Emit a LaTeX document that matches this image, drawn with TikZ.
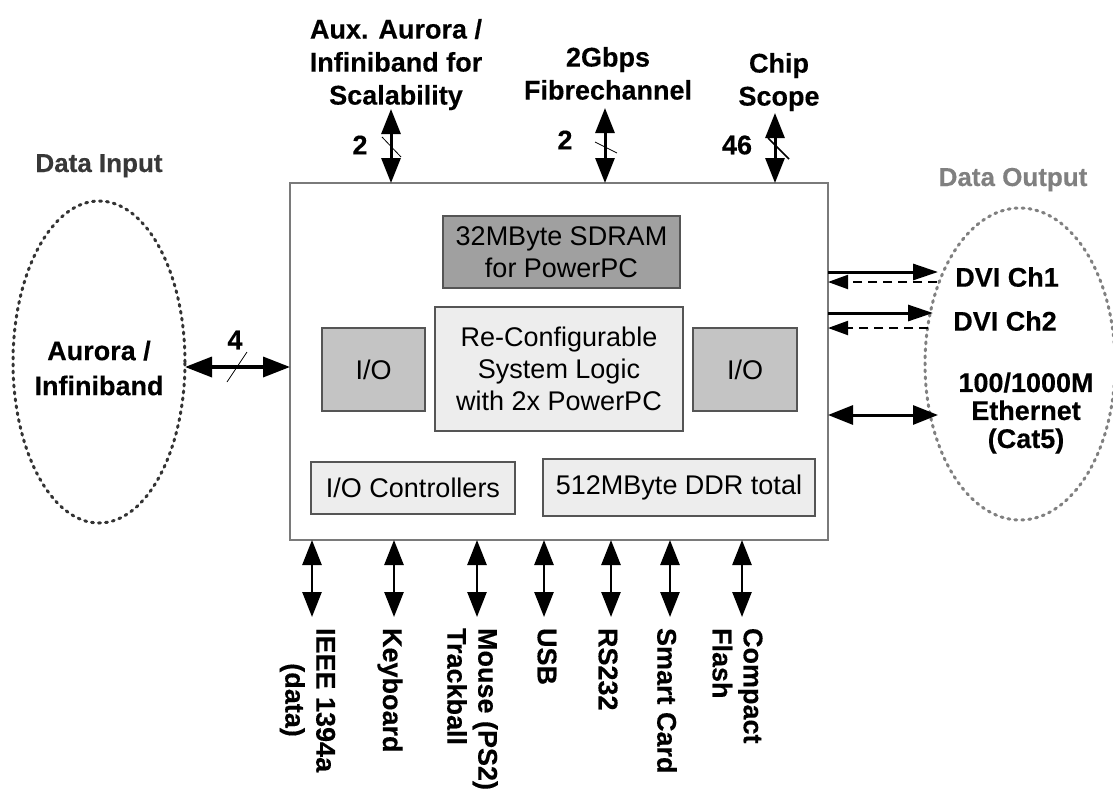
\documentclass[tikz,border=0pt]{standalone}
\usepackage{fontspec}
\setmainfont{Liberation Sans}[BoldFeatures={FakeBold=0.35}]
\usetikzlibrary{arrows.meta,shapes.geometric}
\definecolor{sdramc}{HTML}{A0A0A0}
\definecolor{iofillc}{HTML}{C4C4C4}
\definecolor{lightc}{HTML}{EDEDED}
\definecolor{boxline}{HTML}{555555}
\definecolor{mainline}{HTML}{7A7A7A}
\begin{document}
\begin{tikzpicture}[x=1pt,y=-1pt,
  every node/.style={inner sep=0pt, outer sep=0pt},
  lbl/.style={font=\bfseries\fontsize{27}{33}\selectfont, align=center},
  blbl/.style={font=\bfseries\fontsize{27}{31}\selectfont, rotate=-90, anchor=west},
  box/.style={draw=boxline, line width=1.2pt, font=\fontsize{27}{32}\selectfont, align=center},
  dbl/.style={line width=3pt, {Triangle[length=25pt,width=19pt]}-{Triangle[length=25pt,width=19pt]}},
  one/.style={line width=3pt, -{Triangle[length=25pt,width=16pt]}},
  dsh/.style={line width=2pt, dash pattern=on 9pt off 6pt, -{Triangle[length=20pt,width=14pt]}},
  slashln/.style={line width=0.8pt},
  ell/.style={ellipse, line width=3pt, dash pattern=on 2pt off 5pt, line cap=round},
]
\useasboundingbox (0,0) rectangle (1113,792);
\fill[white] (0,0) rectangle (1113,792);

% main board
\node[draw=mainline, line width=1.2pt, minimum width=538pt, minimum height=357pt] (main) at (559,361.5) {};
\node[box, fill=sdramc, minimum width=237pt, minimum height=72pt] (sdram) at (561.5,252) {32MByte SDRAM\\for PowerPC};
\node[box, fill=lightc, minimum width=248pt, minimum height=124pt] (logic) at (559,369) {Re-Configurable\\System Logic\\with 2x PowerPC};
\node[box, fill=iofillc, minimum width=103pt, minimum height=83pt] (ioL) at (373.5,369.5) {I/O};
\node[box, fill=iofillc, minimum width=104pt, minimum height=83pt] (ioR) at (745,369.5) {I/O};
\node[box, fill=lightc, minimum width=204pt, minimum height=52pt] (ioc) at (413,488) {I/O Controllers};
\node[box, fill=lightc, minimum width=272pt, minimum height=57pt] (ddr) at (679,487.5) {512MByte DDR total};

% data input
\node[font=\bfseries\fontsize{26}{30}\selectfont, text=black!78, anchor=base] (din) at (99,172) {Data Input};
\node[ell, draw=black!80, minimum width=172pt, minimum height=322pt] (lell) at (99,362) {};
\node[font=\bfseries\fontsize{27}{35}\selectfont, align=center] (ltext) at (99,368) {Aurora /\\Infiniband};
\coordinate (la) at (185,367);
\draw[dbl, line width=3.5pt, {Triangle[length=27pt,width=20pt]}-{Triangle[length=27pt,width=20pt]}] (la) -- (main.west |- la);
\node[lbl] (n4) at (235,340) {4};
\draw[slashln] (227,382) -- (247,352);

% data output
\node[font=\bfseries\fontsize{26}{30}\selectfont, text=black!50, anchor=base] (dout) at (1013,186) {Data Output};
\node[ell, draw=black!50, minimum width=190pt, minimum height=312pt] (rell) at (1020,364) {};
\node[lbl] (dvi1) at (1007,277) {DVI Ch1};
\node[lbl] (dvi2) at (1005,321) {DVI Ch2};
\node[font=\bfseries\fontsize{27}{28}\selectfont, align=center] (eth) at (1026,413) {100/1000M\\Ethernet\\(Cat5)};
\coordinate (d1a) at (938,272);
\coordinate (d1b) at (937,282);
\coordinate (d2a) at (933,313);
\coordinate (d2b) at (928,328);
\coordinate (ea) at (938,415);
\draw[one] (main.east |- d1a) -- (d1a);
\draw[dsh] (d1b) -- (main.east |- d1b);
\draw[one] (main.east |- d2a) -- (d2a);
\draw[dsh] (d2b) -- (main.east |- d2b);
\draw[dbl] (main.east |- ea) -- (ea);

% top connections
\node[lbl, anchor=north] (aux) at (396,19) {Aux. Aurora /\\Infiniband for\\Scalability};
\node[lbl, anchor=north] (fc) at (608,47) {2Gbps\\Fibrechannel};
\node[lbl, anchor=north] (cs) at (779,53) {Chip\\Scope};
\coordinate (t1) at (391,109);
\coordinate (t2) at (605,108);
\coordinate (t3) at (775,113);
\draw[dbl] (main.north -| t1) -- (t1);
\draw[dbl] (main.north -| t2) -- (t2);
\draw[dbl] (main.north -| t3) -- (t3);
\node[lbl] (n2a) at (360,145) {2};
\node[lbl] (n2b) at (565,140) {2};
\node[lbl] (n46) at (737,145) {46};
\draw[slashln] (382,137) -- (401,157);
\draw[slashln] (595,142) -- (617,153);
\draw[slashln, line width=1.6pt] (768,138) -- (789,159);

% bottom connections
\foreach \i/\x in {1/312,2/394,3/477,4/544,5/611,6/670,7/742}{
  \coordinate (b\i) at (\x,617);
}
\foreach \i in {1,...,7}{
  \draw[dbl, line width=2.6pt] (main.south -| b\i) -- (b\i);
}
\node[blbl, align=center] (l1) at (307.5,628) {IEEE 1394a\\(data)};
\node[blbl] (l2) at (390,628) {Keyboard};
\node[blbl, align=left] (l3) at (472.5,628) {Mouse (PS2)\\Trackball};
\node[blbl] (l4) at (547,628) {USB};
\node[blbl] (l5) at (608,628) {RS232};
\node[blbl] (l6) at (667,628) {Smart Card};
\node[blbl, align=left] (l7) at (737.5,628) {Compact\\Flash};
\end{tikzpicture}
\end{document}
